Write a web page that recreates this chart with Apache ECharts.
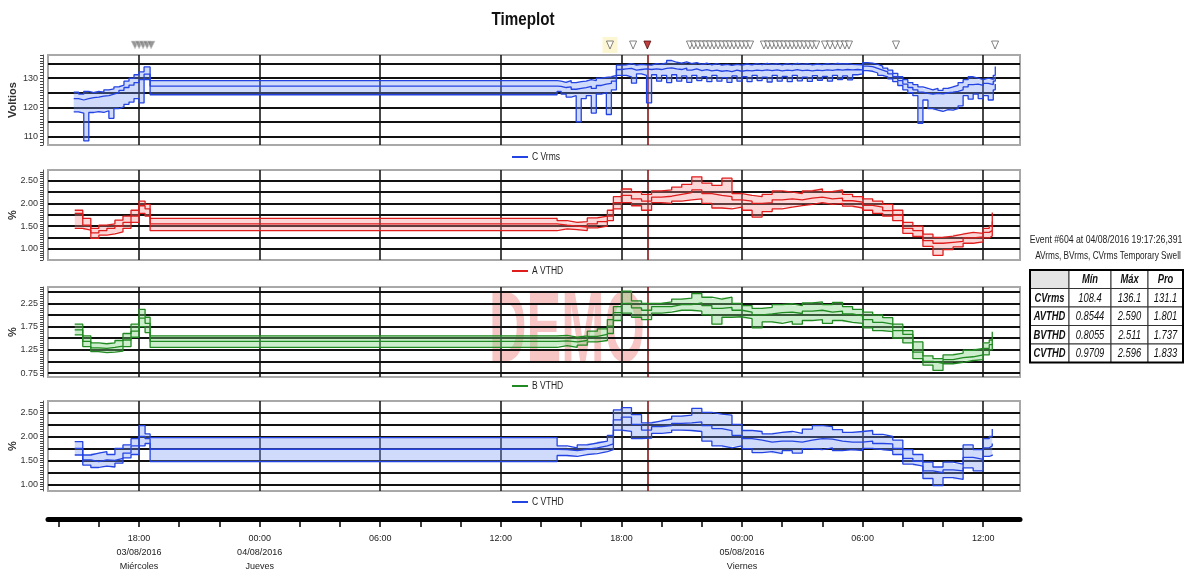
<!DOCTYPE html>
<html>
<head>
<meta charset="utf-8">
<title>Timeplot</title>
<script src="https://cdn.jsdelivr.net/npm/echarts@6.0.0/dist/echarts.min.js"></script>
<style>
  html, body { margin: 0; padding: 0; background: #ffffff; }
  #chart { width: 1184px; height: 577px; }
</style>
</head>
<body>
<div id="chart"></div>
<script>
// ---------------------------------------------------------------------------
// Time is counted in hours from 03/08/2016 00:00.
// ---------------------------------------------------------------------------

// C Vrms samples (15 min)
const vrmsHours = [
  14.75, 15, 15.25, 15.5, 15.75, 16, 16.25, 16.5, 16.75, 17, 17.25, 17.5, 17.75, 18, 18.25, 18.55,
  38.8,
  39, 39.25, 39.5, 39.75, 40, 40.25, 40.5, 40.75, 41, 41.25, 41.5, 41.75,
  42, 42.25, 42.5, 42.75, 43, 43.25, 43.5, 43.75, 44, 44.25, 44.5, 44.75,
  45, 45.25, 45.5, 45.75, 46, 46.25, 46.5, 46.75, 47, 47.25, 47.5, 47.75,
  48, 48.25, 48.5, 48.75, 49, 49.25, 49.5, 49.75, 50, 50.25, 50.5, 50.75,
  51, 51.25, 51.5, 51.75, 52, 52.25, 52.5, 52.75, 53, 53.25, 53.5, 53.75,
  54, 54.25, 54.5, 54.75, 55, 55.25, 55.5, 55.75, 56, 56.25, 56.5, 56.75,
  57, 57.25, 57.5, 57.75, 58, 58.25, 58.5, 58.75, 59, 59.25, 59.5, 59.75,
  60, 60.25, 60.5, 60.6
];
const cVrmsMax = [
  125.2, 124.5, 125.5, 125.0, 125.5, 125.2, 126.0, 126.3, 127.0, 127.6, 129.0, 130.0, 131.2, 132.2, 133.9, 129.2,
  129.0,
  128.6, 129.2, 128.5, 128.8, 129.0, 129.5, 129.2, 130.0, 130.3, 130.5, 131.0, 134.5,
  134.6, 135.0, 134.5, 134.8, 134.6, 134.5, 135.0, 134.8, 135.3, 136.1, 135.5, 135.2,
  135.6, 135.0, 135.4, 134.8, 135.2, 134.6, 135.0, 134.5, 134.8, 134.4, 134.8, 134.5,
  134.9, 134.6, 135.0, 134.7, 135.1, 134.8, 135.0, 134.6, 135.0, 134.7, 135.1, 134.8,
  135.0, 134.6, 134.9, 134.7, 135.0, 134.8, 135.1, 134.9, 135.0, 134.8, 134.7, 134.6,
  135.4, 135.2, 134.8, 134.2, 133.5, 132.8, 131.7, 130.5, 129.5, 128.5, 127.8, 127.0,
  126.5, 126.0, 126.5, 125.8, 126.5, 127.0, 127.5, 128.5, 129.5, 130.5, 130.0, 129.5,
  130.0, 129.6, 131.0, 134.0
];
const cVrmsAvg = [
  123.0, 122.5, 123.0, 123.3, 123.5, 123.8, 124.0, 124.5, 125.0, 125.8, 126.8, 127.6, 128.5, 129.5, 131.4, 127.3,
  127.2,
  126.8, 127.0, 126.2, 126.5, 126.8, 127.2, 126.5, 127.5, 128.0, 128.2, 129.0, 133.0,
  133.2, 133.4, 132.8, 133.0, 133.2, 133.0, 133.2, 133.0, 133.4, 133.6, 133.2, 133.0,
  133.5, 132.8, 133.2, 132.6, 133.0, 132.5, 132.8, 132.4, 132.6, 132.3, 132.8, 132.4,
  132.7, 132.5, 132.8, 132.6, 132.9, 132.6, 132.9, 132.5, 132.8, 132.6, 133.0, 132.6,
  132.8, 132.5, 132.8, 132.6, 132.9, 132.7, 133.0, 132.8, 133.0, 132.9, 133.0, 132.9,
  134.2, 134.0, 133.4, 132.8, 132.2, 131.5, 130.5, 129.2, 128.0, 126.8, 126.0, 125.2,
  124.8, 124.5, 124.8, 124.6, 125.0, 125.2, 125.5, 126.0, 127.0, 127.8, 128.0, 127.5,
  128.2, 127.8, 129.0, 130.5
];
const cVrmsMin = [
  118.4, 118.0, 108.4, 118.2, 118.5, 118.2, 118.8, 116.2, 119.5, 120.1, 121.0, 121.8, 123.0, 121.5, 129.5, 124.3,
  125.5,
  124.5, 123.5, 124.0, 115.0, 123.0, 124.0, 118.0, 124.5, 125.0, 117.5, 126.0, 131.0,
  131.0, 130.5, 128.3, 131.5, 131.0, 121.5, 131.2, 129.0, 131.0, 128.5, 131.2, 129.0,
  130.8, 128.6, 131.0, 129.2, 130.5, 128.8, 131.0, 129.0, 130.2, 128.6, 130.8, 129.0,
  130.5, 128.8, 131.0, 129.2, 130.4, 128.7, 131.0, 129.0, 130.6, 128.8, 131.0, 129.1,
  130.4, 128.9, 130.9, 129.3, 130.6, 129.0, 131.0, 129.5, 130.8, 129.4, 131.2, 131.5,
  132.6, 132.4, 131.8, 131.0, 130.5, 129.8, 128.8, 127.5, 126.0, 125.0, 124.0, 114.5,
  122.5, 119.5, 119.0, 118.6, 119.2, 119.0, 119.5, 120.5, 124.0, 122.8, 124.5, 123.0,
  124.0, 122.5, 126.0, 128.0
];

// VTHD samples (30 min)
const thdHours = [
  14.8, 15.2, 15.6, 16.0, 16.4, 16.8, 17.2, 17.6, 18.0, 18.3, 18.55,
  38.8, 39.3, 39.8, 40.3, 40.8, 41.3, 41.6,
  42.0, 42.5, 43.0, 43.5, 44.0, 44.5, 45.0, 45.5, 46.0, 46.5, 47.0, 47.5,
  48.0, 48.5, 49.0, 49.5, 50.0, 50.5, 51.0, 51.5, 52.0, 52.5, 53.0, 53.5,
  54.0, 54.5, 55.0, 55.5, 56.0, 56.5, 57.0, 57.5, 58.0, 58.5, 59.0, 59.5,
  60.0, 60.3, 60.45
];
const aThdMax = [
  1.85, 1.67, 1.45, 1.52, 1.55, 1.63, 1.72, 1.85, 2.05, 1.98, 1.67,
  1.62, 1.58, 1.60, 1.68, 1.72, 1.85, 2.15,
  2.32, 2.25, 2.20, 2.28, 2.30, 2.36, 2.42, 2.59, 2.45, 2.40, 2.56, 2.22,
  2.18, 2.15, 2.20, 2.28, 2.25, 2.22, 2.28, 2.32, 2.26, 2.30, 2.20, 2.15,
  2.10, 2.05, 1.98, 1.85, 1.58, 1.50, 1.32, 1.25, 1.28, 1.32, 1.36, 1.34,
  1.45, 1.50, 1.80
];
const aThdAvg = [
  1.78, 1.52, 1.35, 1.40, 1.45, 1.50, 1.58, 1.72, 1.95, 1.88, 1.55,
  1.52, 1.50, 1.48, 1.55, 1.60, 1.72, 2.02,
  2.18, 2.10, 2.05, 2.14, 2.16, 2.20, 2.24, 2.30, 2.22, 2.18, 2.15, 2.08,
  2.05, 2.00, 2.02, 2.08, 2.10, 2.08, 2.12, 2.14, 2.10, 2.12, 2.06, 2.03,
  1.96, 1.92, 1.84, 1.74, 1.45, 1.40, 1.18, 1.12, 1.14, 1.16, 1.24, 1.26,
  1.36, 1.40, 1.60
];
const aThdMin = [
  1.45, 1.41, 1.23, 1.30, 1.33, 1.37, 1.45, 1.58, 1.78, 1.72, 1.40,
  1.44, 1.42, 1.40, 1.46, 1.50, 1.62, 1.88,
  2.02, 1.95, 1.85, 2.02, 2.00, 2.05, 2.08, 2.10, 2.00, 1.90, 1.88, 1.92,
  1.85, 1.70, 1.82, 1.88, 1.92, 1.95, 1.98, 2.02, 1.98, 2.00, 1.94, 1.90,
  1.85, 1.78, 1.72, 1.62, 1.34, 1.27, 1.05, 0.8544, 0.98, 1.04, 1.12, 1.15,
  1.24, 1.28, 1.40
];
const bThdMax = [
  1.80, 1.55, 1.40, 1.38, 1.40, 1.45, 1.60, 1.80, 2.12, 1.95, 1.55,
  1.56, 1.52, 1.55, 1.65, 1.70, 1.90, 2.18,
  2.511, 2.30, 2.25, 2.25, 2.28, 2.34, 2.36, 2.46, 2.38, 2.34, 2.38, 2.25,
  2.20, 2.14, 2.16, 2.22, 2.24, 2.20, 2.26, 2.28, 2.22, 2.27, 2.18, 2.12,
  2.06, 2.00, 1.94, 1.80, 1.66, 1.42, 1.12, 1.06, 1.14, 1.18, 1.24, 1.28,
  1.40, 1.46, 1.64
];
const bThdAvg = [
  1.68, 1.43, 1.29, 1.28, 1.30, 1.33, 1.46, 1.65, 1.93, 1.82, 1.43,
  1.44, 1.42, 1.45, 1.54, 1.58, 1.76, 2.05,
  2.25, 2.15, 2.10, 2.18, 2.18, 2.22, 2.22, 2.26, 2.20, 2.14, 2.16, 2.10,
  2.06, 2.00, 2.02, 2.05, 2.06, 2.03, 2.08, 2.10, 2.06, 2.08, 2.02, 1.98,
  1.90, 1.84, 1.80, 1.66, 1.58, 1.20, 1.00, 0.96, 1.04, 1.08, 1.10, 1.14,
  1.28, 1.36, 1.50
];
const bThdMin = [
  1.57, 1.32, 1.21, 1.19, 1.20, 1.22, 1.32, 1.52, 1.75, 1.62, 1.30,
  1.34, 1.30, 1.35, 1.42, 1.45, 1.60, 1.88,
  2.04, 1.95, 1.90, 2.04, 2.06, 2.10, 2.10, 2.08, 2.00, 1.80, 1.95, 1.96,
  1.92, 1.72, 1.85, 1.82, 1.86, 1.80, 1.88, 1.90, 1.82, 1.88, 1.84, 1.82,
  1.72, 1.66, 1.64, 1.50, 1.40, 1.06, 0.92, 0.8055, 0.95, 0.98, 1.02, 1.04,
  1.14, 1.25, 1.38
];
const cThdMax = [
  1.89, 1.61, 1.65, 1.68, 1.62, 1.75, 1.82, 1.95, 2.22, 2.05, 1.97,
  1.80, 1.76, 1.82, 1.86, 1.90, 2.02, 2.55,
  2.596, 2.45, 2.28, 2.32, 2.36, 2.42, 2.44, 2.58, 2.50, 2.46, 2.44, 2.25,
  2.12, 2.10, 2.05, 2.08, 2.10, 2.06, 2.15, 2.22, 2.20, 2.14, 2.08, 2.10,
  2.12, 2.04, 2.00, 1.92, 1.72, 1.62, 1.46, 1.36, 1.46, 1.42, 1.82, 1.72,
  1.95, 2.00, 2.15
];
const cThdAvg = [
  1.75, 1.51, 1.47, 1.51, 1.50, 1.54, 1.65, 1.80, 2.00, 1.95, 1.73,
  1.72, 1.70, 1.73, 1.76, 1.80, 1.84, 2.34,
  2.40, 2.25, 2.13, 2.20, 2.22, 2.27, 2.28, 2.30, 2.22, 2.16, 2.12, 2.02,
  1.95, 1.92, 1.88, 1.90, 1.90, 1.88, 1.92, 1.95, 1.94, 1.90, 1.88, 1.88,
  1.90, 1.85, 1.84, 1.75, 1.54, 1.48, 1.28, 1.24, 1.30, 1.28, 1.56, 1.52,
  1.76, 1.80, 1.85
];
const cThdMin = [
  1.61, 1.40, 1.35, 1.38, 1.36, 1.44, 1.55, 1.62, 1.80, 1.85, 1.47,
  1.60, 1.58, 1.62, 1.64, 1.68, 1.72, 2.13,
  2.10, 1.95, 1.96, 2.06, 2.08, 2.13, 2.12, 2.10, 1.90, 1.80, 1.76, 1.80,
  1.74, 1.66, 1.68, 1.64, 1.70, 1.65, 1.74, 1.72, 1.76, 1.70, 1.72, 1.70,
  1.75, 1.72, 1.70, 1.62, 1.42, 1.38, 1.12, 0.9709, 1.14, 1.10, 1.34, 1.28,
  1.58, 1.60, 1.62
];

// Event markers along the top strip
const eventsGrouped = [17.8, 18.0, 18.2, 18.4, 18.6];
const eventHighlighted = [41.43];
const eventSelected = [43.29];
const eventsOther = [
  42.58,
  45.41, 45.61, 45.81, 46.01, 46.21, 46.41, 46.61, 46.81, 47.01, 47.21, 47.40, 47.60, 47.80, 48.00, 48.20, 48.40,
  49.09, 49.29, 49.49, 49.69, 49.89, 50.09, 50.29, 50.49, 50.69, 50.89, 51.09, 51.29, 51.49, 51.69,
  52.13, 52.38, 52.63, 52.88, 53.12, 53.32,
  55.66, 60.59
];

// Time axis
const dayHours = [18, 24, 30, 36, 42, 48, 54, 60];
const dayLabels = [
  '18:00\n03/08/2016\nMiércoles', '00:00\n04/08/2016\nJueves', '06:00', '12:00',
  '18:00', '00:00\n05/08/2016\nViernes', '06:00', '12:00'
];
const minorHours = [14, 16, 18, 20, 22, 24, 26, 28, 30, 32, 34, 36, 38, 40, 42, 44, 46, 48, 50, 52, 54, 56, 58, 60];

// Event summary
const chartTitle = 'Timeplot';
const eventTitle = 'Event #604 at 04/08/2016 19:17:26,391';
const eventKind = 'AVrms, BVrms, CVrms Temporary Swell';
const statHeaders = ['Mín', 'Máx', 'Pro'];
const statNames = ['CVrms', 'AVTHD', 'BVTHD', 'CVTHD'];
const statMin = ['108.4', '0.8544', '0.8055', '0.9709'];
const statMax = ['136.1', '2.590', '2.511', '2.596'];
const statAvg = ['131.1', '1.801', '1.737', '1.833'];

// ---------------------------------------------------------------------------
const FONT = "'Liberation Sans', Arial, sans-serif";
const X_MIN = 13.47, X_MAX = 61.83;
const GRID_LEFT = 48, GRID_RIGHT = 164;

const panels = [
  { name: 'C Vrms', unit: 'Voltios', top: 55, legendY: 157, color: '#2343e2', fill: 'rgba(120,150,240,0.35)',
    min: 107, max: 138, tickFrom: 107, tickStep: 1, labels: [110, 120, 130], dec: 0,
    lines: [110, 115, 120, 125, 130, 135], hours: vrmsHours, hi: cVrmsMax, mid: cVrmsAvg, lo: cVrmsMin },
  { name: 'A VTHD', unit: '%', top: 170, legendY: 271, color: '#e01d1d', fill: 'rgba(245,140,140,0.35)',
    min: 0.75, max: 2.74, tickFrom: 0.75, tickStep: 0.05, labels: [1, 1.5, 2, 2.5], dec: 2,
    lines: [1, 1.25, 1.5, 1.75, 2, 2.25, 2.5], hours: thdHours, hi: aThdMax, mid: aThdAvg, lo: aThdMin },
  { name: 'B VTHD', unit: '%', top: 287, legendY: 386, color: '#228a22', fill: 'rgba(120,210,120,0.38)',
    min: 0.665, max: 2.6, tickFrom: 0.7, tickStep: 0.05, labels: [0.75, 1.25, 1.75, 2.25], dec: 2,
    lines: [0.75, 1, 1.25, 1.5, 1.75, 2, 2.25, 2.5], hours: thdHours, hi: bThdMax, mid: bThdAvg, lo: bThdMin },
  { name: 'C VTHD', unit: '%', top: 401, legendY: 502, color: '#2343e2', fill: 'rgba(120,150,240,0.35)',
    min: 0.86, max: 2.735, tickFrom: 0.9, tickStep: 0.05, labels: [1, 1.5, 2, 2.5], dec: 2,
    lines: [1, 1.25, 1.5, 1.75, 2, 2.25, 2.5], hours: thdHours, hi: cThdMax, mid: cThdAvg, lo: cThdMin }
];

panels.forEach(p => {
  if (p.hi.length !== p.hours.length || p.mid.length !== p.hours.length || p.lo.length !== p.hours.length) {
    throw new Error(p.name + ' length mismatch: ' + [p.hours.length, p.hi.length, p.mid.length, p.lo.length].join(','));
  }
});

const EVENT_GRID = 4, TIME_GRID = 5;

const grids = panels.map(p => ({
  left: GRID_LEFT, right: GRID_RIGHT, top: p.top, height: 90, outerBoundsMode: 'none', containLabel: false,
  show: true, borderColor: '#a8a8a8', borderWidth: 2, backgroundColor: 'transparent'
}));
grids.push({ left: GRID_LEFT, right: GRID_RIGHT, top: 40, height: 10, outerBoundsMode: 'none', containLabel: false });
grids.push({ left: GRID_LEFT, right: GRID_RIGHT, top: 518, height: 1, outerBoundsMode: 'none', containLabel: false });

const hiddenX = i => ({
  type: 'value', gridIndex: i, min: X_MIN, max: X_MAX, show: false,
  splitLine: { show: false }
});

const xAxes = panels.map((p, i) => hiddenX(i));
xAxes.push(hiddenX(EVENT_GRID));
xAxes.push({
  type: 'value', gridIndex: TIME_GRID, min: X_MIN, max: X_MAX, position: 'bottom',
  axisLine: { show: true, lineStyle: { color: '#000', width: 5, cap: 'round' } },
  axisTick: { show: true, customValues: minorHours, length: 8, lineStyle: { color: '#000', width: 1.5 } },
  axisLabel: {
    show: true, customValues: dayHours, margin: 13, lineHeight: 14,
    fontFamily: FONT, fontSize: 9, color: '#222',
    formatter: v => {
      const k = dayHours.findIndex(h => Math.abs(h - v) < 0.01);
      return k >= 0 ? dayLabels[k] : '';
    }
  },
  splitLine: { show: false }
});

function ticksFor(p) {
  const out = [];
  for (let v = p.tickFrom; v <= p.max + 1e-9; v += p.tickStep) out.push(+v.toFixed(3));
  return out;
}

const yAxes = panels.map((p, i) => ({
  type: 'value', gridIndex: i, min: p.min, max: p.max, offset: 5,
  name: p.unit, nameLocation: 'middle', nameGap: 25, nameMoveOverlap: false,
  nameTextStyle: { fontFamily: FONT, fontSize: 11, fontWeight: 'bold', color: '#333' },
  axisLine: { show: true, lineStyle: { color: '#555', width: 1 } },
  axisTick: { show: true, customValues: ticksFor(p), length: 3, lineStyle: { color: '#444', width: 1 } },
  axisLabel: {
    show: true, customValues: p.labels, formatter: v => Number(v).toFixed(p.dec),
    fontFamily: FONT, fontSize: 9, color: '#333', margin: 5
  },
  splitLine: { show: false }
}));
yAxes.push({ type: 'value', gridIndex: EVENT_GRID, min: -1, max: 1, show: false });
yAxes.push({ type: 'value', gridIndex: TIME_GRID, min: 0, max: 1, show: false });

// stepped outline of one envelope, in pixels, through the axis scales
function steppedCoords(api, hours, vals) {
  const out = [];
  for (let k = 0; k < hours.length; k++) {
    const next = k < hours.length - 1 ? hours[k + 1] : hours[k];
    out.push(api.coord([hours[k], vals[k]]), api.coord([next, vals[k]]));
  }
  return out;
}

const series = [];
panels.forEach((p, i) => {
  // panel grid: hour lines every 6 h, the event cursor and the horizontal value lines
  const gridLines = []
    .concat(dayHours.map(h => ({ xAxis: h, lineStyle: { color: '#1a1a1a', width: 1.6, type: 'solid' } })))
    .concat(eventSelected.map(h => ({ xAxis: h, lineStyle: { color: '#8e1515', width: 1.6, type: 'solid' } })))
    .concat(p.lines.map(v => ({ yAxis: v, lineStyle: { color: '#111', width: 2, type: 'solid' } })));
  series.push({
    type: 'line', name: p.name + ' grid', xAxisIndex: i, yAxisIndex: i, silent: true, animation: false,
    symbol: 'none', z: 1, lineStyle: { opacity: 0 },
    data: [[p.hours[0], p.mid[0]]],
    markLine: {
      silent: true, animation: false, z: 1, symbol: ['none', 'none'],
      label: { show: false }, data: gridLines
    }
  });

  // shaded band between the lower and upper envelopes
  series.push({
    type: 'custom', name: p.name + ' band', xAxisIndex: i, yAxisIndex: i, silent: true, animation: false,
    z: 1, clip: true,
    data: [[p.hours[0], p.mid[0]]],
    encode: { x: 0, y: 1 },
    renderItem: (params, api) => {
      const up = steppedCoords(api, p.hours, p.hi);
      const dn = steppedCoords(api, p.hours, p.lo).reverse();
      return { type: 'polygon', shape: { points: up.concat(dn) }, style: { fill: p.fill } };
    }
  });

  const base = {
    type: 'line', xAxisIndex: i, yAxisIndex: i, step: 'end', symbol: 'none',
    silent: true, animation: false, z: 3,
    lineStyle: { color: p.color, width: 1.3 }, itemStyle: { color: p.color }
  };
  series.push(Object.assign({}, base, { name: p.name + ' máx', data: p.hours.map((h, k) => [h, p.hi[k]]) }));
  series.push(Object.assign({}, base, { name: p.name + ' prom', data: p.hours.map((h, k) => [h, p.mid[k]]) }));
  series.push(Object.assign({}, base, { name: p.name + ' mín', data: p.hours.map((h, k) => [h, p.lo[k]]) }));
});

// event strip
const evBase = { type: 'scatter', xAxisIndex: EVENT_GRID, yAxisIndex: EVENT_GRID, silent: true, animation: false };
series.push(Object.assign({}, evBase, {
  name: 'highlight', data: eventHighlighted.map(h => [h, 0]), symbol: 'rect', symbolSize: [15, 16],
  itemStyle: { color: '#fbf4c8' }, z: 2
}));
series.push(Object.assign({}, evBase, {
  name: 'grouped', data: eventsGrouped.map(h => [h, 0]), symbol: 'triangle', symbolRotate: 180, symbolSize: [8, 8],
  itemStyle: { color: '#7d7d7d', borderColor: '#d8d8d8', borderWidth: 0.7 }, z: 3
}));
series.push(Object.assign({}, evBase, {
  name: 'events', data: eventsOther.concat(eventHighlighted).map(h => [h, 0]), symbol: 'triangle', symbolRotate: 180,
  symbolSize: [7, 8], itemStyle: { color: '#ffffff', borderColor: '#555', borderWidth: 0.9 }, z: 3
}));
series.push(Object.assign({}, evBase, {
  name: 'selected', data: eventSelected.map(h => [h, 0]), symbol: 'triangle', symbolRotate: 180,
  symbolSize: [7, 8], itemStyle: { color: '#b01010', borderColor: '#4a0000', borderWidth: 0.9 }, z: 4
}));

// text helper: horizontally condensed label
function label(text, x, y, font, sx, z, fill, align) {
  const a = align || 'center';
  return {
    type: 'text', z: z, silent: true, x: x, y: y, scaleX: sx, originX: 0, originY: 0,
    style: {
      text: text, font: font, fill: fill || '#222',
      textAlign: a, textVerticalAlign: 'middle', align: a, verticalAlign: 'middle'
    }
  };
}

// series keys under each panel
const keyEls = [];
panels.forEach(p => {
  keyEls.push({
    type: 'rect', z: 10, silent: true,
    shape: { x: 512, y: p.legendY - 1, width: 16, height: 2 },
    style: { fill: p.color }
  });
  keyEls.push(label(p.name, 532, p.legendY, 'normal 10px ' + FONT, 0.85, 10, '#222', 'left'));
});

// summary table of the selected event
const tCols = [1030, 1069, 1111, 1148, 1183];
const tRows = [270, 288.5, 307, 325.5, 344, 362.5];
const tableEls = [];
const cellText = (r, c) => {
  if (r === 0) return c === 0 ? '' : statHeaders[c - 1];
  const k = r - 1;
  return [statNames[k], statMin[k], statMax[k], statAvg[k]][c];
};
for (let r = 0; r < 5; r++) {
  for (let c = 0; c < 4; c++) {
    const x0 = tCols[c], x1 = tCols[c + 1], y0 = tRows[r], y1 = tRows[r + 1];
    tableEls.push({
      type: 'rect', z: 10, silent: true,
      shape: { x: x0, y: y0, width: x1 - x0, height: y1 - y0 },
      style: { fill: (r === 0 && c === 0) ? '#e4e4e4' : '#ffffff', stroke: '#333', lineWidth: 1 }
    });
    const txt = cellText(r, c);
    if (txt) {
      const bold = r === 0 || c === 0;
      tableEls.push(label(txt, (x0 + x1) / 2, (y0 + y1) / 2 + 0.5,
        'italic ' + (bold ? 'bold 12px ' : 'normal 12px ') + FONT, 0.78, 11, '#111'));
    }
  }
}
tableEls.push({
  type: 'rect', z: 12, silent: true,
  shape: { x: tCols[0], y: tRows[0], width: tCols[4] - tCols[0], height: tRows[5] - tRows[0] },
  style: { fill: 'none', stroke: '#000', lineWidth: 2 }
});

const graphics = [
  label('DEMO', 567, 333, 'bold 100px ' + FONT, 0.52, 0.5, 'rgba(243,150,150,0.55)'),
  label(chartTitle, 523, 20, 'bold 19px ' + FONT, 0.8, 10, '#111'),
  label(eventTitle, 1106, 240, 'normal 11px ' + FONT, 0.79, 10),
  label(eventKind, 1108, 256, 'normal 11px ' + FONT, 0.75, 10)
].concat(keyEls, tableEls);

const option = {
  animation: false,
  backgroundColor: '#ffffff',
  grid: grids,
  xAxis: xAxes,
  yAxis: yAxes,
  series: series,
  graphic: graphics
};

const chart = echarts.init(document.getElementById('chart'), null, { renderer: 'canvas' });
chart.setOption(option);
</script>
</body>
</html>
